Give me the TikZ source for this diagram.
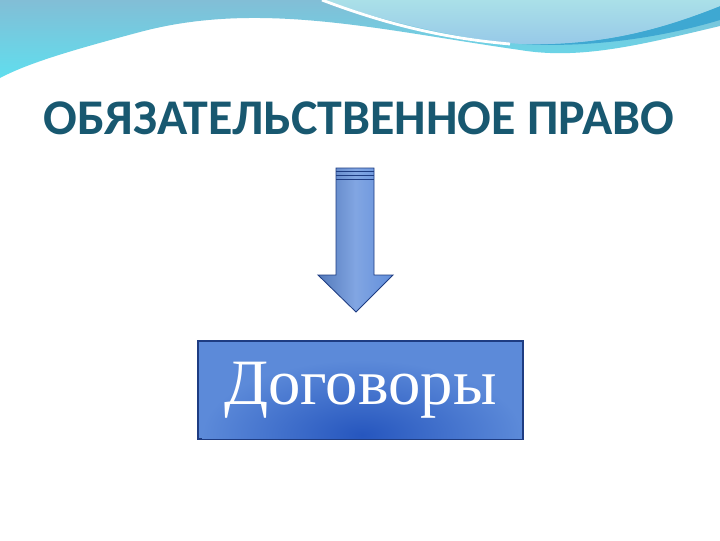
\documentclass[tikz,border=0pt]{standalone}
\usepackage{fontspec}
\newfontfamily\titlefont{Carlito}
\newfontfamily\boxfont{Liberation Serif}
\definecolor{titleteal}{RGB}{24,88,112}
\definecolor{boxblue}{RGB}{92,138,217}
\definecolor{boxdeep}{RGB}{38,86,190}
\definecolor{boxedge}{RGB}{30,60,130}
\definecolor{arrowblue}{RGB}{98,143,219}
\definecolor{wavetop}{RGB}{130,190,214}
\definecolor{wavelow}{RGB}{96,222,238}
\definecolor{wavestripe}{RGB}{62,168,210}
\definecolor{lighttop}{RGB}{170,224,232}
\definecolor{lightlow}{RGB}{150,200,232}
\begin{document}
\begin{tikzpicture}[x=0.025cm,y=-0.025cm,
    heading/.style={font=\titlefont\bfseries\fontsize{35.5}{42}\selectfont, text=titleteal},
    blockbox/.style={draw=boxedge, line width=0.8pt, minimum width=325*0.025cm, minimum height=98*0.025cm, inner sep=0pt}]
    \useasboundingbox (0,0) rectangle (720,540);
    \fill[white] (0,0) rectangle (720,540);
    % wave at the top
    \shade[top color=wavetop, bottom color=wavelow]
        (0,0) -- (720,0) -- (720,26) .. controls (640,45) and (580,60) .. (520,50)
        .. controls (380,30) and (260,0) .. (140,32) .. controls (80,48) and (30,62) .. (0,78) -- cycle;
    \fill[wavestripe] (720,6) .. controls (660,30) and (600,46) .. (522,44)
        .. controls (590,48) and (660,38) .. (720,20) -- cycle;
    \shade[top color=lighttop, bottom color=lightlow]
        (322,0) -- (720,0) -- (720,6) .. controls (660,30) and (600,46) .. (522,44)
        .. controls (460,40) and (380,20) .. (322,0) -- cycle;
    \draw[white, line width=2pt] (322,0) .. controls (380,22) and (440,38) .. (510,44);
    % title
    \node[heading] (title) at (359,118) {ОБЯЗАТЕЛЬСТВЕННОЕ ПРАВО};
    % block arrow
    \shade[left color=arrowblue!85!black, right color=arrowblue, middle color=arrowblue!80!white, draw=boxedge, line width=0.6pt]
        (336,168) -- (374,168) -- (374,275) -- (393,275) -- (356,312) -- (318,275) -- (336,275) -- cycle;
    \foreach \y in {171,175,179} \draw[boxedge, line width=0.6pt] (336,\y) -- (374,\y);
    % box
    \node[blockbox, fill=boxblue] (deal) at (360.5,390) {};
    \begin{scope}
        \clip (deal.south west) rectangle (deal.north east);
        \shade[inner color=boxdeep, outer color=boxblue] (362,435) ellipse (160 and 75);
    \end{scope}
    \draw[boxedge, line width=0.8pt] (deal.south west) rectangle (deal.north east);
    \node[font=\boxfont\fontsize{46}{52}\selectfont, text=white] (dealtext) at (deal) {Договоры};
\end{tikzpicture}
\end{document}
